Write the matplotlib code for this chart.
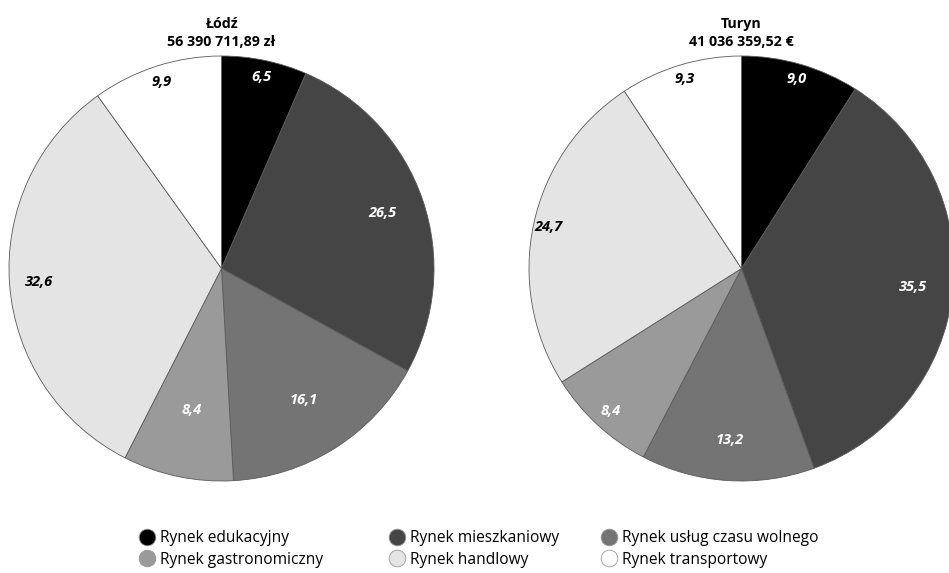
import numpy as np
import matplotlib.pyplot as plt
from matplotlib.lines import Line2D

plt.rcParams['font.family'] = ['Open Sans', 'DejaVu Sans']

categories = ["Rynek edukacyjny", "Rynek mieszkaniowy", "Rynek usług czasu wolnego",
              "Rynek gastronomiczny", "Rynek handlowy", "Rynek transportowy"]
lodz_values = [6.5, 26.5, 16.1, 8.4, 32.6, 9.9]
turyn_values = [9.0, 35.5, 13.2, 8.4, 24.7, 9.3]
lodz_title = "Łódź\n56 390 711,89 zł"
turyn_title = "Turyn\n41 036 359,52 €"

colors = ["#000000", "#454545", "#747474", "#9a9a9a", "#e4e4e4", "#ffffff"]
text_colors = ["white", "white", "white", "white", "black", "black"]
# label distance (fraction of radius) per slice, as in the original
lodz_dist = [0.92, 0.80, 0.73, 0.68, 0.86, 0.92]
turyn_dist = [0.93, 0.81, 0.81, 0.91, 0.93, 0.93]

W, H = 949, 573
fig = plt.figure(figsize=(W / 100, H / 100), dpi=100)


def draw_pie(cx, cy, r, values, dists, title):
    ax = fig.add_axes([(cx - r) / W, (H - cy - r) / H, 2 * r / W, 2 * r / H])
    ax.pie(values, colors=colors, startangle=90, counterclock=False, radius=1,
           wedgeprops=dict(edgecolor="#5a5a5a", linewidth=0.6))
    ax.set_xlim(-1, 1)
    ax.set_ylim(-1, 1)
    ax.set_aspect("equal")
    ax.axis("off")
    cum = np.cumsum(values) - np.array(values) / 2
    for v, c, d, tc in zip(values, cum, dists, text_colors):
        ang = np.deg2rad(90 - 360 * c / sum(values))
        ax.text(d * np.cos(ang), d * np.sin(ang), f"{v:.1f}".replace(".", ","),
                ha="center", va="center", color=tc, fontsize=10.5,
                fontweight="bold", style="italic")
    fig.text(cx / W, 1 - 33 / H, title, ha="center", va="center",
             fontsize=10.3, fontweight="bold", linespacing=1.35)
    return ax


draw_pie(221.5, 268.5, 212.5, lodz_values, lodz_dist, lodz_title)
draw_pie(741.5, 268.5, 212.5, turyn_values, turyn_dist, turyn_title)

handles = [Line2D([], [], marker="o", linestyle="none", markersize=12,
                  markerfacecolor=c, markeredgecolor="#9a9a9a", markeredgewidth=0.6)
           for c in colors]

# legend: three columns, filled row by row
col_x = [139, 389, 601]
for i, x in enumerate(col_x):
    idx = [i, i + 3]
    fig.legend([handles[j] for j in idx], [categories[j] for j in idx],
               loc="upper left", bbox_to_anchor=(x / W, 1 - 530 / H),
               frameon=False, fontsize=11.2, handletextpad=0.35,
               handlelength=1.0, labelspacing=0.38, borderpad=0,
               borderaxespad=0)

fig.savefig("out.png", dpi=100)
